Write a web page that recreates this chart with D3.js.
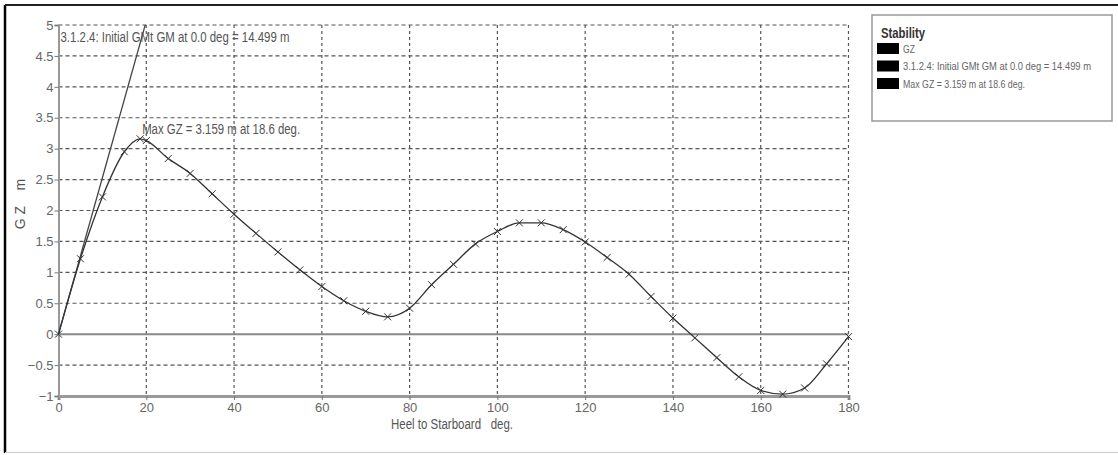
<!DOCTYPE html>
<html>
<head>
<meta charset="utf-8">
<script src="https://cdn.jsdelivr.net/npm/d3@7"></script>
<style>
  body { margin: 0; background: #fff; }
  svg { display: block; font-family: "Liberation Sans", Arial, sans-serif; }
</style>
</head>
<body>
<div id="chart"></div>
<script>
// heel angle (deg) and righting lever GZ (m)
const heel = [0, 5, 10, 15, 18.6, 20, 25, 30, 35, 40, 45, 50, 55, 60, 65, 70, 75, 80, 85, 90,
              95, 100, 105, 110, 115, 120, 125, 130, 135, 140, 145, 150, 155, 160, 165, 170, 175, 180];
const gz = [0, 1.22, 2.22, 2.95, 3.159, 3.13, 2.84, 2.6, 2.27, 1.94, 1.63, 1.33, 1.04, 0.77, 0.54, 0.37, 0.28, 0.42, 0.8, 1.13,
            1.46, 1.66, 1.8, 1.8, 1.69, 1.49, 1.24, 0.97, 0.61, 0.26, -0.06, -0.38, -0.69, -0.91, -0.97, -0.87, -0.48, -0.04];

const gmValue = 14.499;          // initial GM, drawn as slope over 1 rad
const gmLine = [[0, 0], [57.3, gmValue]];
const maxGZ = {heel: 18.6, gz: 3.159};

const xTicks = [0, 20, 40, 60, 80, 100, 120, 140, 160, 180];
const yTicks = [-1, -0.5, 0, 0.5, 1, 1.5, 2, 2.5, 3, 3.5, 4, 4.5, 5];

const legendTitle = 'Stability';
const legendItems = ['GZ', '3.1.2.4: Initial GMt GM at 0.0 deg = 14.499 m', 'Max GZ = 3.159 m at 18.6 deg.'];
const legendWidths = [12, 188, 122];

const W = 1118, H = 455;
const svg = d3.select('#chart').append('svg')
  .attr('width', W)
  .attr('height', H);

// outer frame
svg.append('line').attr('x1', 5).attr('x2', 5).attr('y1', 5).attr('y2', 453)
   .attr('stroke', '#000').attr('stroke-width', 2.5);
svg.append('line').attr('x1', 5).attr('x2', W).attr('y1', 5).attr('y2', 5)
   .attr('stroke', '#222').attr('stroke-width', 2);
svg.append('line').attr('x1', 5).attr('x2', W).attr('y1', 452.5).attr('y2', 452.5)
   .attr('stroke', '#ccc').attr('stroke-width', 1);

const x = d3.scaleLinear().domain([0, 180]).range([58.5, 848.5]);
const y = d3.scaleLinear().domain([-1, 5]).range([396, 25]);

// grid
const grid = svg.append('g');
grid.selectAll('.vg')
  .data(xTicks.filter(d => d > 0))
  .enter().append('line')
  .attr('x1', d => x(d)).attr('x2', d => x(d))
  .attr('y1', y(5)).attr('y2', y(-1))
  .attr('stroke', '#555').attr('stroke-width', 1.2)
  .attr('stroke-dasharray', '3,3');
grid.selectAll('.hg')
  .data(yTicks.filter(d => d !== 0 && d !== -1))
  .enter().append('line')
  .attr('x1', x(0)).attr('x2', x(180))
  .attr('y1', d => y(d)).attr('y2', d => y(d))
  .attr('stroke', '#555').attr('stroke-width', 1.2)
  .attr('stroke-dasharray', '4,3');

// zero line
svg.append('line')
   .attr('x1', x(0)).attr('x2', x(180))
   .attr('y1', y(0)).attr('y2', y(0))
   .attr('stroke', '#888').attr('stroke-width', 2);

// axes
const xAxis = svg.append('g')
  .attr('transform', `translate(0,${y(-1)})`)
  .call(d3.axisBottom(x).tickValues(xTicks).tickSize(4).tickPadding(3));
const yAxis = svg.append('g')
  .attr('transform', `translate(${x(0)},0)`)
  .call(d3.axisLeft(y).tickValues(yTicks).tickSize(4).tickPadding(1).tickFormat(d3.format('')));

xAxis.select('.domain').attr('stroke', '#999').attr('stroke-width', 3);
yAxis.select('.domain').attr('stroke', '#999').attr('stroke-width', 2);
[xAxis, yAxis].forEach(a => {
  a.selectAll('.tick line').attr('stroke', '#777');
  a.selectAll('.tick text').attr('fill', '#666').attr('font-size', '13px')
   .attr('font-family', '"Liberation Sans", sans-serif');
});

// clip to plot area
svg.append('clipPath').attr('id', 'plotclip')
  .append('rect')
  .attr('x', x(0)).attr('y', y(5))
  .attr('width', x(180) - x(0)).attr('height', y(-1) - y(5));

// GM line
svg.append('path')
  .datum(gmLine)
  .attr('clip-path', 'url(#plotclip)')
  .attr('d', d3.line().x(d => x(d[0])).y(d => y(d[1])))
  .attr('fill', 'none')
  .attr('stroke', '#444')
  .attr('stroke-width', 1.3);

// GZ curve
const pts = heel.map((h, i) => ({h, v: gz[i]}));
svg.append('path')
  .datum(pts)
  .attr('d', d3.line().x(d => x(d.h)).y(d => y(d.v)).curve(d3.curveMonotoneX))
  .attr('fill', 'none')
  .attr('stroke', '#333')
  .attr('stroke-width', 1.3);

// x markers
const m = 3.5;
const marks = svg.append('g').attr('stroke', '#333').attr('stroke-width', 1);
marks.selectAll('path')
  .data(pts)
  .enter().append('path')
  .attr('d', d => {
    const cx = x(d.h), cy = y(d.v);
    return `M${cx - m},${cy - m}L${cx + m},${cy + m}M${cx - m},${cy + m}L${cx + m},${cy - m}`;
  });

// annotations (narrow text, squeezed to the reference widths)
svg.append('text')
  .attr('x', x(0) + 2).attr('y', 42)
  .attr('font-size', '14px').attr('fill', '#555')
  .attr('textLength', 229).attr('lengthAdjust', 'spacingAndGlyphs')
  .text('3.1.2.4: Initial GMt GM at 0.0 deg = ' + gmValue + ' m');

svg.append('text')
  .attr('x', x(maxGZ.heel) + 2).attr('y', y(maxGZ.gz) - 5)
  .attr('font-size', '14px').attr('fill', '#555')
  .attr('textLength', 158).attr('lengthAdjust', 'spacingAndGlyphs')
  .text('Max GZ = ' + maxGZ.gz + ' m at ' + maxGZ.heel + ' deg.');

// axis titles
svg.append('text')
  .attr('x', 391).attr('y', 429)
  .attr('font-size', '14px').attr('fill', '#555')
  .attr('xml:space', 'preserve')
  .attr('textLength', 122).attr('lengthAdjust', 'spacingAndGlyphs')
  .text('Heel to Starboard   deg.');

svg.append('text')
  .attr('transform', 'translate(25,204) rotate(-90)')
  .attr('text-anchor', 'middle')
  .attr('font-size', '14px').attr('fill', '#555')
  .attr('xml:space', 'preserve')
  .text('G Z    m');

// legend
const lg = svg.append('g').attr('transform', 'translate(872,15)');
lg.append('rect')
  .attr('width', 240).attr('height', 106)
  .attr('fill', '#fff').attr('stroke', '#999').attr('stroke-width', 1.5);
lg.append('text')
  .attr('x', 9).attr('y', 23)
  .attr('font-size', '14px').attr('font-weight', 'bold').attr('fill', '#333')
  .attr('textLength', 44).attr('lengthAdjust', 'spacingAndGlyphs')
  .text(legendTitle);
const li = lg.selectAll('.item')
  .data(legendItems)
  .enter().append('g')
  .attr('transform', (d, i) => `translate(5,${28 + i * 17.5})`);
li.append('rect')
  .attr('width', 22).attr('height', 11)
  .attr('fill', '#000');
li.append('text')
  .attr('x', 26).attr('y', 9.5)
  .attr('font-size', '11px').attr('fill', '#666')
  .attr('textLength', (d, i) => legendWidths[i]).attr('lengthAdjust', 'spacingAndGlyphs')
  .text(d => d);
</script>
</body>
</html>
